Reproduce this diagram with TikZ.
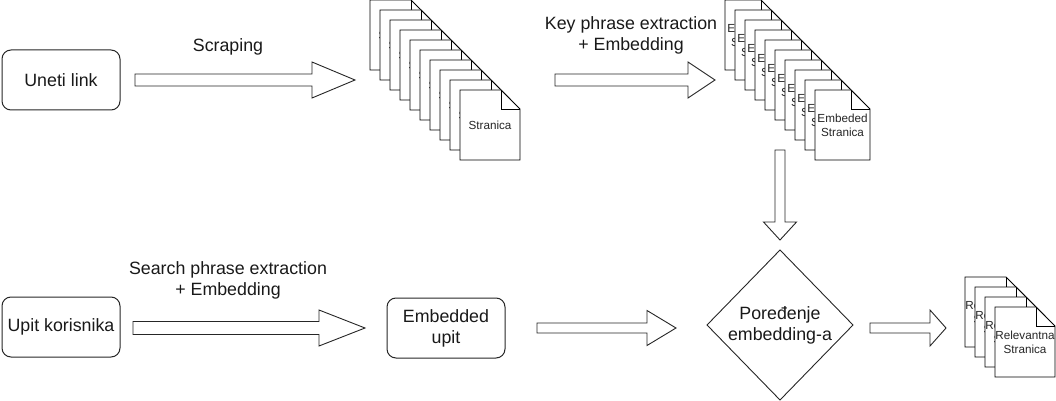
\documentclass[tikz,border=0pt]{standalone}
\usepackage{fontspec}
\setmainfont{Liberation Sans}
\newcommand\docpage[6]{% name, x, y, w, h, text
  \draw[pageline] (#2,#3) -- (#2+#4-19,#3) -- (#2+#4,#3+19) -- (#2+#4,#3+#5) -- (#2,#3+#5) -- cycle;
  \draw[pageline,fill=none] (#2+#4-19,#3) -- (#2+#4-19,#3+19) -- (#2+#4,#3+19);
  \node[pagetxt] (#1) at (#2+#4/2,#3+#5/2) {#6};
}
\newcommand\harrow[6]{% x1, x2, y, headlen, shaft half, head half
  \draw[blockarrow] (#1,#3-#5) -- (#2-#4,#3-#5) -- (#2-#4,#3-#6) -- (#2,#3) -- (#2-#4,#3+#6) -- (#2-#4,#3+#5) -- (#1,#3+#5) -- cycle;
}
\begin{document}
\begin{tikzpicture}[x=1pt,y=-1pt,line width=1pt,
  box/.style={draw=black!85, rounded corners=9pt, minimum width=118pt, minimum height=60pt, inner sep=2pt,
              font=\fontsize{17.8}{21}\selectfont, align=center, text=black!90},
  lbl/.style={font=\fontsize{17.8}{21}\selectfont, align=center, text=black!90},
  pagetxt/.style={font=\fontsize{11.7}{14}\selectfont, align=center, inner sep=0pt, text=black!85},
  pageline/.style={draw=black, fill=white, line width=0.9pt},
  blockarrow/.style={draw=black!85, fill=white, line width=0.9pt, line join=miter}
]
\useasboundingbox (0,0) rectangle (1056,401);

% boxes
\node[box] (link) at (61,80) {Uneti link};
\node[box] (upit) at (61,327) {Upit korisnika};
\node[box] (emb) at (446,328) {Embedded\\upit};

% stack 1
\foreach \i in {0,...,9} {
  \docpage{sa\i}{370+10*\i}{0+10*\i}{60}{70}{Stranica}
}
% stack 2
\foreach \i in {0,...,9} {
  \docpage{sb\i}{725+10*\i}{0+10*\i}{55}{70}{Embeded\\Stranica}
}
% stack 3
\foreach \i in {0,...,3} {
  \docpage{sc\i}{965+10*\i}{277+10*\i}{60}{70}{Relevantna\\Stranica}
}

% diamond
\draw[draw=black!85, line width=0.9pt] (780,250) -- (853,325) -- (780,400) -- (707,325) -- cycle;
\node[lbl] (cmp) at (780,325) {Poređenje\\embedding-a};

% arrows
\harrow{135}{355}{80}{43}{6}{18}
\harrow{555}{715}{80}{27}{6}{18}
\harrow{133}{365}{328}{46}{6.5}{18}
\harrow{537}{676}{328}{29}{5}{17.5}
\harrow{870}{946}{328}{16}{5}{18}
\draw[blockarrow] (775,150) -- (785,150) -- (785,222) -- (796.5,222) -- (780,240) -- (763.5,222) -- (775,222) -- cycle;

% labels
\node[lbl] (l1) at (228,47) {Scraping};
\node[lbl] (l2) at (631,35) {Key phrase extraction\\+ Embedding};
\node[lbl] (l3) at (228,280) {Search phrase extraction\\+ Embedding};
\end{tikzpicture}
\end{document}
